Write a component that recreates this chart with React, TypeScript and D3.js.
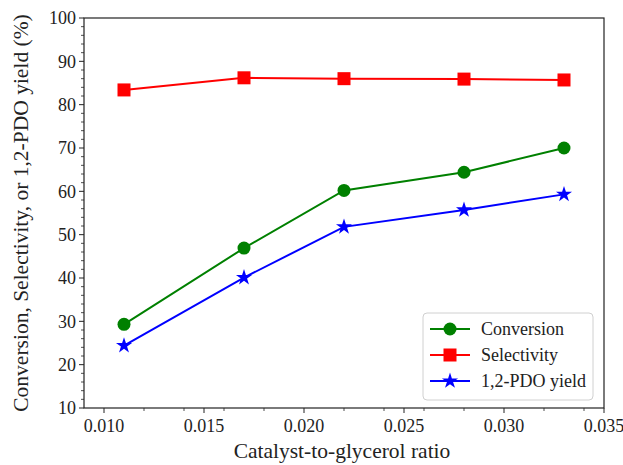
import React from "react";
import * as d3 from "d3";

const ratios = [0.011, 0.017, 0.022, 0.028, 0.033];
const conversion = [29.3, 46.9, 60.2, 64.4, 70.0];
const selectivity = [83.4, 86.2, 86.0, 85.9, 85.7];
const pdoYield = [24.4, 40.1, 51.8, 55.7, 59.3];
const xTicks = [0.01, 0.015, 0.02, 0.025, 0.03, 0.035];
const yTicks = [10, 20, 30, 40, 50, 60, 70, 80, 90, 100];
const seriesNames = ["Conversion", "Selectivity", "1,2-PDO yield"];

const W = 623;
const H = 465;
const M = { left: 84, right: 604, top: 18, bottom: 408 };
const FONT = "Liberation Serif, DejaVu Serif, serif";

export default function App() {
  const x = d3.scaleLinear().domain([0.009, 0.035]).range([M.left, M.right]);
  const y = d3.scaleLinear().domain([10, 100]).range([M.bottom, M.top]);

  const xMinor = d3.range(10, 35, 2).map((v) => v / 1000).filter((v) => !xTicks.some((t) => Math.abs(t - v) < 1e-9));
  const yMinor = d3.range(10, 101, 2).filter((v) => v % 10 !== 0);

  const line = d3
    .line<[number, number]>()
    .x((d) => x(d[0]))
    .y((d) => y(d[1]));

  const series = [
    { name: seriesNames[0], values: conversion, color: "#008000", marker: "circle" },
    { name: seriesNames[1], values: selectivity, color: "#ff0000", marker: "square" },
    { name: seriesNames[2], values: pdoYield, color: "#0000ff", marker: "star" },
  ];

  const starPath = d3.symbol(d3.symbolStar, 80)() as string;

  const marker = (kind: string, cx: number, cy: number, color: string, key: any) => {
    if (kind === "circle") return <circle key={key} cx={cx} cy={cy} r={6.5} fill={color} />;
    if (kind === "square")
      return <rect key={key} x={cx - 6.5} y={cy - 6.5} width={13} height={13} fill={color} />;
    return <path key={key} d={starPath} transform={`translate(${cx},${cy})`} fill={color} />;
  };

  const legendX = 423;
  const legendY = 313;
  const textStyle = { fontFamily: FONT };

  return (
    <svg
      width={W}
      height={H}
      style={{ position: "absolute", left: 0, top: 0, background: "#fff", fontFamily: FONT }}
    >
      <rect width={W} height={H} fill="#fff" />

      {/* series */}
      {series.map((s) => (
        <g key={s.name}>
          <path
            d={line(ratios.map((r, i) => [r, s.values[i]]) as [number, number][]) as string}
            fill="none"
            stroke={s.color}
            strokeWidth={2}
          />
          {ratios.map((r, i) => marker(s.marker, x(r), y(s.values[i]), s.color, i))}
        </g>
      ))}

      {/* frame */}
      <rect
        x={M.left}
        y={M.top}
        width={M.right - M.left}
        height={M.bottom - M.top}
        fill="none"
        stroke="#222"
        strokeWidth={1.2}
      />

      {/* x axis ticks */}
      {xTicks.map((t) => (
        <g key={t}>
          <line x1={x(t)} x2={x(t)} y1={M.bottom} y2={M.bottom + 5} stroke="#222" strokeWidth={1} />
          <text x={x(t)} y={M.bottom + 24} textAnchor="middle" fontSize={18} fill="#222" style={textStyle}>
            {d3.format(".3f")(t)}
          </text>
        </g>
      ))}
      {xMinor.map((t) => (
        <line key={t} x1={x(t)} x2={x(t)} y1={M.bottom} y2={M.bottom + 3} stroke="#222" strokeWidth={0.8} />
      ))}

      {/* y axis ticks */}
      {yTicks.map((t) => (
        <g key={t}>
          <line x1={M.left - 5} x2={M.left} y1={y(t)} y2={y(t)} stroke="#222" strokeWidth={1} />
          <text x={M.left - 8} y={y(t)} dy="0.35em" textAnchor="end" fontSize={18} fill="#222" style={textStyle}>
            {t}
          </text>
        </g>
      ))}
      {yMinor.map((t) => (
        <line key={t} x1={M.left - 3} x2={M.left} y1={y(t)} y2={y(t)} stroke="#222" strokeWidth={0.8} />
      ))}

      {/* axis titles */}
      <text x={(M.left + M.right) / 2 - 2} y={458} textAnchor="middle" fontSize={21.5} fill="#222" style={textStyle}>
        Catalyst-to-glycerol ratio
      </text>
      <text
        transform={`translate(28,${(M.top + M.bottom) / 2}) rotate(-90)`}
        textAnchor="middle"
        fontSize={21.5}
        fill="#222"
        style={textStyle}
      >
        Conversion, Selectivity, or 1,2-PDO yield (%)
      </text>

      {/* legend */}
      <g>
        <rect
          x={legendX}
          y={legendY}
          width={170}
          height={87}
          rx={4}
          fill="#fff"
          fillOpacity={0.8}
          stroke="#d0d0d0"
          strokeWidth={1}
        />
        {series.map((s, i) => {
          const ly = legendY + 16 + i * 26;
          return (
            <g key={s.name}>
              <line x1={legendX + 7} x2={legendX + 47} y1={ly} y2={ly} stroke={s.color} strokeWidth={2} />
              {marker(s.marker, legendX + 27, ly, s.color, "m")}
              <text x={legendX + 58} y={ly} dy="0.35em" fontSize={18} fill="#222" style={textStyle}>
                {s.name}
              </text>
            </g>
          );
        })}
      </g>
    </svg>
  );
}
